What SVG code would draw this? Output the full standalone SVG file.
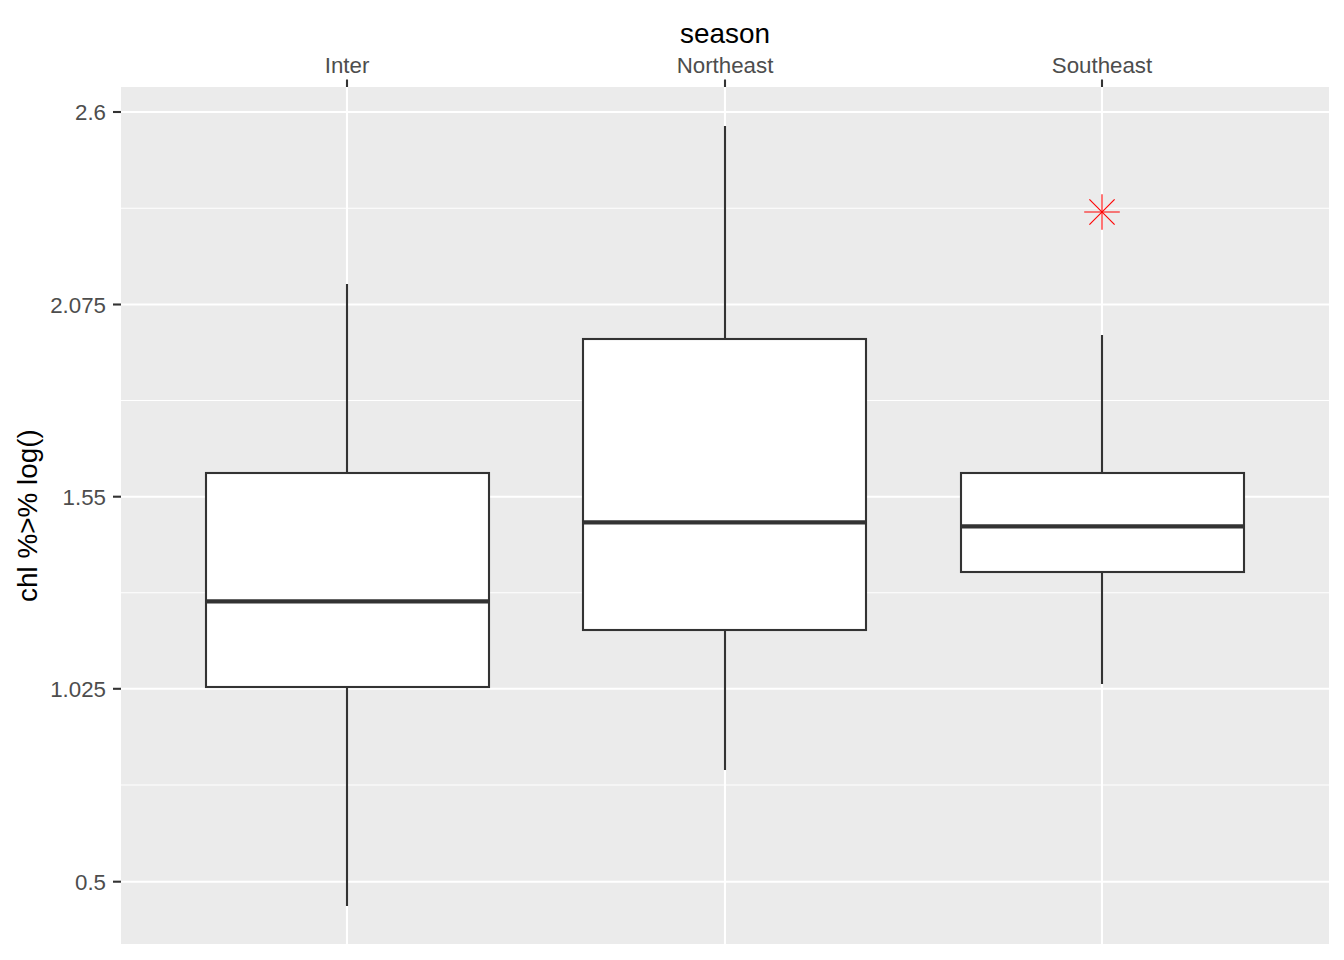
<svg xmlns="http://www.w3.org/2000/svg" width="1344" height="960" viewBox="0 0 1344 960">
<style>
.grid-major{stroke:#FFFFFF;stroke-width:2.1;fill:none}
.grid-minor{stroke:#FFFFFF;stroke-width:1.1;fill:none}
.tick{stroke:#333333;stroke-width:2.1;fill:none}
.ticklab{font-family:"Liberation Sans",Arial,sans-serif;font-size:22.3px;fill:#4D4D4D}
.title{font-family:"Liberation Sans",Arial,sans-serif;font-size:27.9px;fill:#000000}
.box{fill:#FFFFFF;stroke:#333333;stroke-width:2.1}
.whisker{stroke:#333333;stroke-width:2.1;fill:none}
.median{stroke:#333333;stroke-width:4.3;fill:none}
.outlier{stroke:#FF0000;stroke-width:1.1;fill:none}
</style>
<rect x="0" y="0" width="1344" height="960" fill="#FFFFFF"/>
<g id="panel">
<rect x="121" y="87" width="1208" height="857" fill="#EBEBEB"/>
<line class="grid-minor" x1="121" y1="208.3" x2="1329" y2="208.3"/>
<line class="grid-minor" x1="121" y1="400.5" x2="1329" y2="400.5"/>
<line class="grid-minor" x1="121" y1="592.7" x2="1329" y2="592.7"/>
<line class="grid-minor" x1="121" y1="785" x2="1329" y2="785"/>
<line class="grid-major" x1="121" y1="112" x2="1329" y2="112"/>
<line class="grid-major" x1="121" y1="304.5" x2="1329" y2="304.5"/>
<line class="grid-major" x1="121" y1="496.7" x2="1329" y2="496.7"/>
<line class="grid-major" x1="121" y1="688.8" x2="1329" y2="688.8"/>
<line class="grid-major" x1="121" y1="881.7" x2="1329" y2="881.7"/>
<line class="grid-major" x1="347" y1="87" x2="347" y2="944"/>
<line class="grid-major" x1="725" y1="87" x2="725" y2="944"/>
<line class="grid-major" x1="1102" y1="87" x2="1102" y2="944"/>
</g>
<g id="connectors">
<line class="whisker" x1="347" y1="284" x2="347" y2="473"/>
<line class="whisker" x1="347" y1="687" x2="347" y2="906"/>
<line class="whisker" x1="725" y1="126" x2="725" y2="339"/>
<line class="whisker" x1="725" y1="630" x2="725" y2="770"/>
<line class="whisker" x1="1102" y1="335" x2="1102" y2="473"/>
<line class="whisker" x1="1102" y1="572" x2="1102" y2="684"/>
</g>
<g id="box-inter">
<rect class="box" x="206" y="473" width="283" height="214"/>
<line class="median" x1="206" y1="601.3" x2="489" y2="601.3"/>
</g>
<g id="box-northeast">
<rect class="box" x="583" y="339" width="283" height="291"/>
<line class="median" x1="583" y1="522.3" x2="866" y2="522.3"/>
</g>
<g id="box-southeast">
<rect class="box" x="961" y="473" width="283" height="99"/>
<line class="median" x1="961" y1="526.3" x2="1244" y2="526.3"/>
</g>
<g id="outlier-southeast">
<line class="outlier" x1="1084.2" y1="212" x2="1119.8" y2="212"/>
<line class="outlier" x1="1102" y1="194.2" x2="1102" y2="229.8"/>
<line class="outlier" x1="1089.4" y1="199.4" x2="1114.6" y2="224.6"/>
<line class="outlier" x1="1089.4" y1="224.6" x2="1114.6" y2="199.4"/>
</g>
<g id="y-axis">
<line class="tick" x1="113" y1="112" x2="121" y2="112"/>
<line class="tick" x1="113" y1="304.5" x2="121" y2="304.5"/>
<line class="tick" x1="113" y1="496.7" x2="121" y2="496.7"/>
<line class="tick" x1="113" y1="688.8" x2="121" y2="688.8"/>
<line class="tick" x1="113" y1="881.7" x2="121" y2="881.7"/>
<text class="ticklab" x="106" y="120" text-anchor="end">2.6</text>
<text class="ticklab" x="106" y="312.5" text-anchor="end">2.075</text>
<text class="ticklab" x="106" y="504.7" text-anchor="end">1.55</text>
<text class="ticklab" x="106" y="696.8" text-anchor="end">1.025</text>
<text class="ticklab" x="106" y="889.7" text-anchor="end">0.5</text>
<text class="title" x="0" y="0" text-anchor="middle" transform="translate(37,515.5) rotate(-90)">chl %&gt;% log()</text>
</g>
<g id="x-axis">
<line class="tick" x1="347" y1="79.5" x2="347" y2="87"/>
<line class="tick" x1="725" y1="79.5" x2="725" y2="87"/>
<line class="tick" x1="1102" y1="79.5" x2="1102" y2="87"/>
<text class="ticklab" x="347" y="73.3" text-anchor="middle">Inter</text>
<text class="ticklab" x="725" y="73.3" text-anchor="middle">Northeast</text>
<text class="ticklab" x="1102" y="73.3" text-anchor="middle">Southeast</text>
<text class="title" x="725" y="43.3" text-anchor="middle">season</text>
</g>
</svg>
